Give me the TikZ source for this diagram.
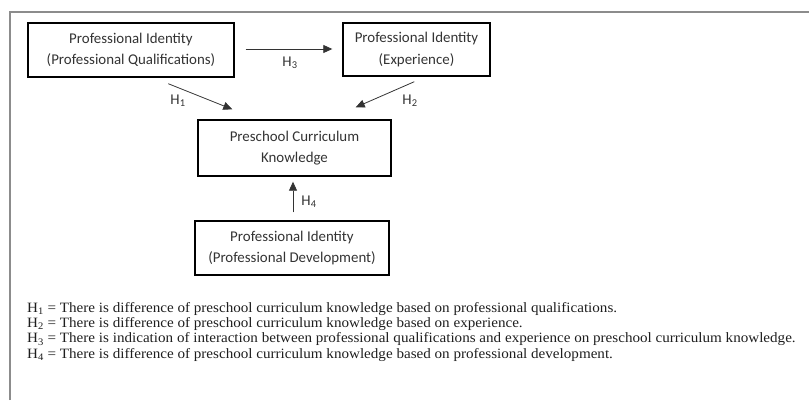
\documentclass[tikz,border=0pt]{standalone}
\usepackage{fontspec}
\setmainfont{Carlito}
\newfontfamily\timesfont[FakeStretch=1.06]{Liberation Serif}
\usetikzlibrary{arrows.meta,calc}
\definecolor{framegray}{HTML}{8C8C8C}
\definecolor{inkgray}{HTML}{333333}
\definecolor{textdark}{HTML}{1E1E1E}
\tikzset{
  boxnode/.style={draw=black, line width=1.4pt, align=center, inner sep=0pt,
    font=\fontsize{14.9}{21.5}\selectfont, text=inkgray},
  link/.style={draw=inkgray, line width=0.8pt, -{Triangle[length=9pt,width=8pt]}},
  hlabel/.style={font=\fontsize{14.9}{15}\selectfont, text=inkgray, inner sep=0pt},
  hypo/.style={anchor=west, inner sep=0pt, font=\timesfont\fontsize{14.25}{15}\selectfont, text=textdark}
}
\begin{document}
\begin{tikzpicture}[x=1pt,y=-1pt]
\useasboundingbox (0,0) rectangle (809,400);
\draw[framegray, line width=1.3pt] (10,400) -- (10,12) -- (809,12);

\node[boxnode, minimum width=206pt, minimum height=54pt] (b1) at (131,50)
  {Professional Identity\\(Professional Qualifications)};
\node[boxnode, minimum width=147pt, minimum height=53pt] (b2) at (416.5,49.5)
  {Professional Identity\\(Experience)};
\node[boxnode, minimum width=193pt, minimum height=56pt] (b3) at (294.5,148)
  {Preschool Curriculum\\Knowledge};
\node[boxnode, minimum width=194pt, minimum height=54pt] (b4) at (292,248)
  {Professional Identity\\(Professional Development)};

\coordinate (h3s) at ($(b1.east)+(11,-1)$);
\coordinate (h3e) at ($(b2.west)+(-10,-0.5)$);
\coordinate (h1s) at ($(b1.south west)+(141,6)$);
\coordinate (h1e) at ($(b3.north west)+(35,-10)$);
\coordinate (h2s) at ($(b2.south west)+(72,5)$);
\coordinate (h2e) at ($(b3.north east)+(-36,-12)$);
\coordinate (h4s) at ($(b4.north)+(1,-8)$);
\coordinate (h4e) at ($(b3.south)+(-1.5,5)$);

\draw[link] (h3s) -- (h3e);
\draw[link] (h1s) -- (h1e);
\draw[link] (h2s) -- (h2e);
\draw[link] (h4s) -- (h4e);

\node[hlabel] (l3) at (290,63) {H\textsubscript{3}};
\node[hlabel] (l1) at (178,101) {H\textsubscript{1}};
\node[hlabel] (l2) at (410,101) {H\textsubscript{2}};
\node[hlabel] (l4) at (309,202) {H\textsubscript{4}};

\node[hypo] (t1) at (27,309) {H\textsubscript{1} = There is difference of preschool curriculum knowledge based on professional qualifications.};
\node[hypo] (t2) at (27,324) {H\textsubscript{2} = There is difference of preschool curriculum knowledge based on experience.};
\node[hypo] (t3) at (27,339.5) {H\textsubscript{3} = There is indication of interaction between professional qualifications and experience on preschool curriculum knowledge.};
\node[hypo] (t4) at (27,355) {H\textsubscript{4} = There is difference of preschool curriculum knowledge based on professional development.};
\end{tikzpicture}
\end{document}
